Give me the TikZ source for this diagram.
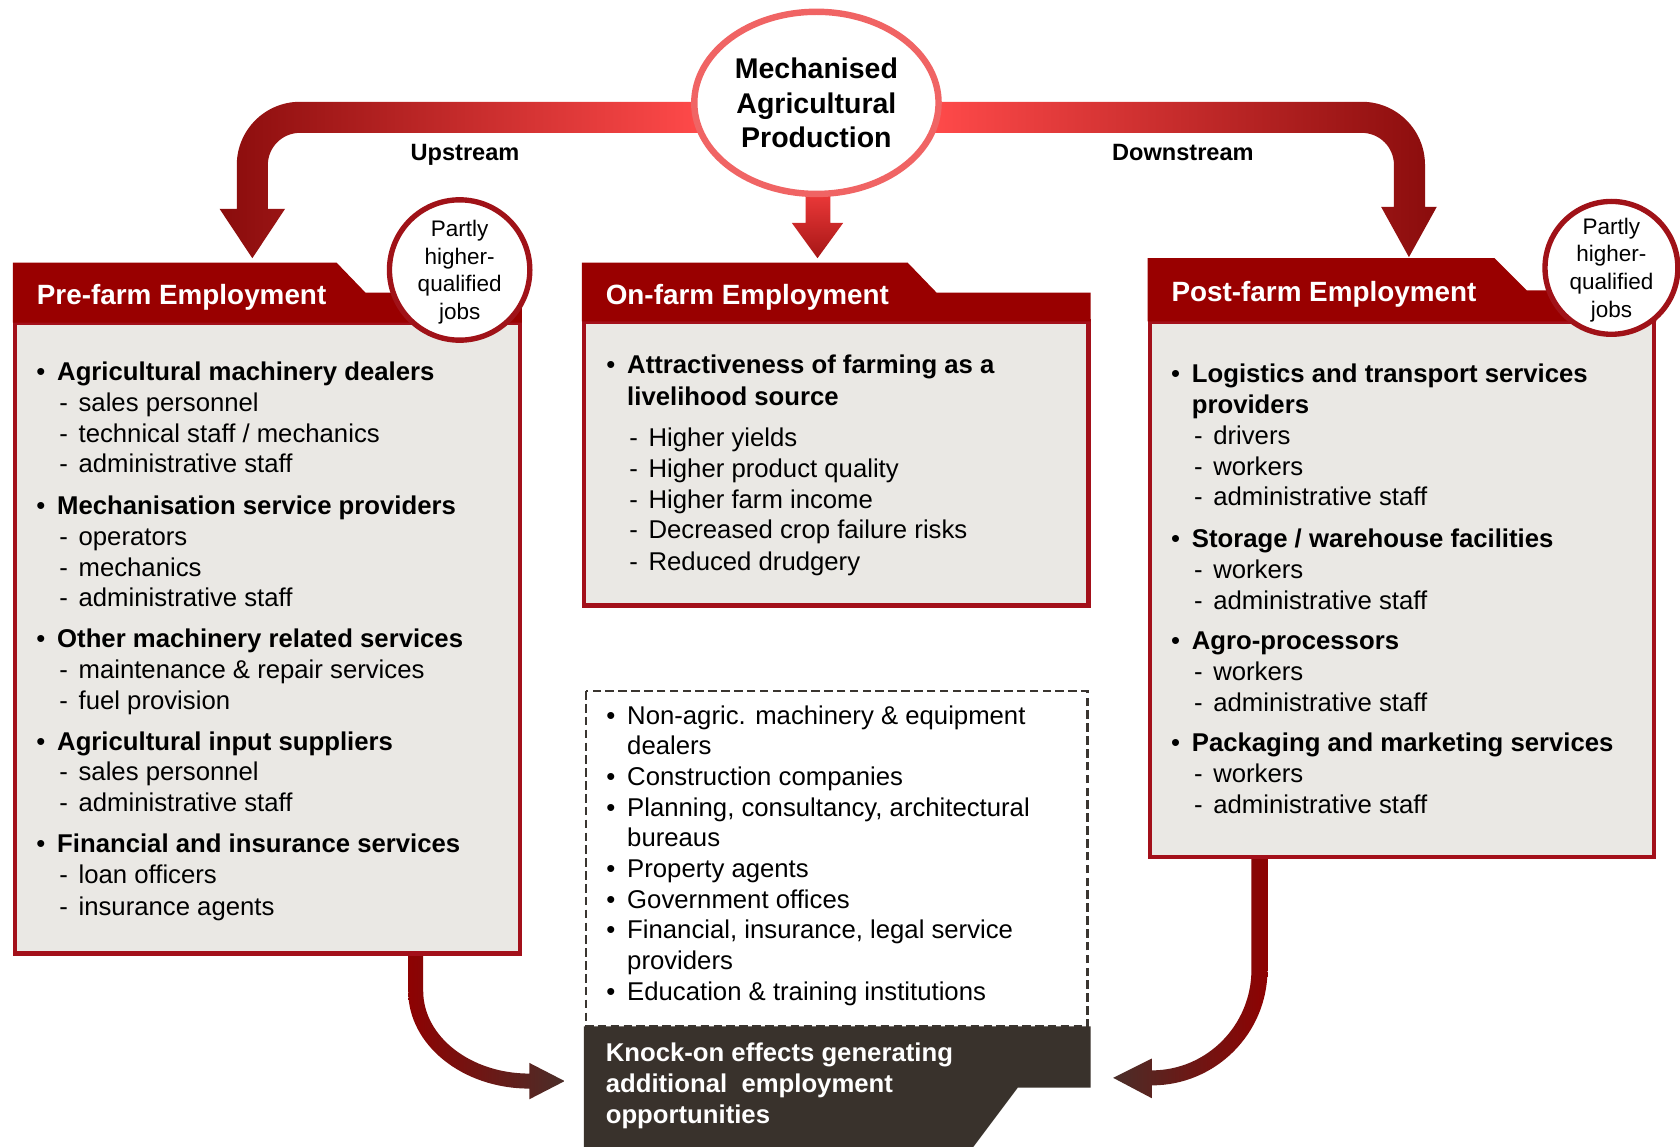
\documentclass[tikz,border=0pt]{standalone}
\usepackage{fontspec}
\setmainfont{Liberation Sans}
\usetikzlibrary{shapes.geometric}
\definecolor{hdrred}{HTML}{990000}
\definecolor{bodyfill}{HTML}{EAE8E4}
\definecolor{bodyborder}{HTML}{A3101A}
\definecolor{ringred}{HTML}{A01218}
\definecolor{toplight}{HTML}{F06464}
\definecolor{banddark}{HTML}{8A0C0C}
\definecolor{bandbright}{HTML}{FF4A4A}
\definecolor{ctrtop}{HTML}{F23C3C}
\definecolor{ctrbot}{HTML}{A61616}
\definecolor{knockbg}{HTML}{39322C}
\definecolor{dashgrey}{HTML}{3A3530}
\definecolor{arrbrown}{HTML}{4A2E29}
\definecolor{arrred}{HTML}{8E0202}
\newcommand{\itmB}[1]{\llap{\mdseries\textbullet\hspace{5.5pt}}\textbf{#1}}
\newcommand{\itmC}[1]{\textbf{#1}}
\newcommand{\itmS}[1]{\hspace*{10pt}\llap{-\hspace{5pt}}#1}
\newcommand{\itmR}[1]{\llap{\textbullet\hspace{5.5pt}}#1}
\newcommand{\itmQ}[1]{#1}
\newcommand{\itemfont}{\fontsize{12pt}{14.4pt}\selectfont}
\begin{document}
\begin{tikzpicture}[x=0.5pt,y=-0.5pt,
  line/.style={anchor=base west, inner sep=0pt, font=\itemfont},
  bodybox/.style={draw=bodyborder, line width=2pt, fill=bodyfill},
  header/.style={fill=hdrred},
  hdrtext/.style={anchor=base west, inner sep=0pt, text=white, font=\fontsize{13pt}{15.6pt}\selectfont\bfseries},
  ring/.style={ellipse, draw=ringred, line width=2.5pt, fill=white, inner sep=0pt},
  ringtext/.style={align=center, inner sep=0pt, font=\fontsize{10.5pt}{13pt}\selectfont},
  flowlabel/.style={anchor=base, inner sep=0pt, font=\fontsize{11pt}{13pt}\selectfont\bfseries},
  dashbox/.style={draw=dashgrey, line width=1.3pt, dash pattern=on 4pt off 2pt, fill=white}]
\useasboundingbox (0,0) rectangle (1568,1070);
\fill[white] (0,0) rectangle (1568,1070);

% top fat arrows
\shade[left color=banddark, right color=bandbright]
  (655,95) -- (280,95) .. controls (247.4,95) and (221,121.4) .. (221,154)
  -- (221,195) -- (205,195) -- (235.5,241) -- (266,195) -- (250,195) -- (250,154)
  .. controls (250,137.4) and (263.4,124) .. (280,124) -- (655,124) -- cycle;
\shade[left color=bandbright, right color=banddark]
  (870,95) -- (1271,95) .. controls (1303.6,95) and (1330,121.4) .. (1330,154)
  -- (1330,193) -- (1341,193) -- (1315,240) -- (1289,193) -- (1301,193) -- (1301,154)
  .. controls (1301,137.4) and (1287.6,124) .. (1271,124) -- (870,124) -- cycle;
\shade[top color=ctrtop, bottom color=ctrbot]
  (752,175) -- (752,208) -- (739,208) -- (763,241) -- (787,208) -- (775,208) -- (775,175) -- cycle;

% central circle
\node[ellipse, draw=toplight, line width=3pt, fill=white, inner sep=0pt,
  minimum width=114pt, minimum height=85pt] (mech) at (762,96) {};
\node[align=center, inner sep=0pt, font=\fontsize{13.3pt}{16pt}\selectfont\bfseries] (mechtxt) at (mech.center)
  {Mechanised\\Agricultural\\Production};

\node[flowlabel] (up) at (434,150) {Upstream};
\node[flowlabel] (down) at (1104,150) {Downstream};

% bottom curved arrows
\shade[left color=arrred, right color=arrbrown]
  (381,880) -- (381,925) .. controls (381,975.2) and (431.6,1016) .. (494,1016)
  -- (494,1026) -- (527,1009) -- (494,992) -- (494,1002)
  .. controls (439.4,1002) and (395,967.5) .. (395,925) -- (395,880) -- cycle;
\shade[left color=arrbrown, right color=arrred]
  (1183,795) -- (1183,905) .. controls (1183,964.6) and (1134.6,1013) .. (1075,1013)
  -- (1075,1025) -- (1039,1006) -- (1075,988) -- (1075,999)
  .. controls (1126.3,999) and (1168,956.9) .. (1168,905) -- (1168,795) -- cycle;

% boxes
\draw[bodybox] (14,301) rectangle (485,890);
\fill[header] (12,245) -- (314,245) -- (341,273) -- (487,273) -- (487,301) -- (12,301) -- cycle;
\node[hdrtext] (prehdr) at (34,284) {Pre-farm Employment};

\draw[bodybox] (545,300) rectangle (1016,565);
\fill[header] (543,245) -- (847,245) -- (874,273) -- (1018,273) -- (1018,300) -- (543,300) -- cycle;
\node[hdrtext] (onhdr) at (565,284) {On-farm Employment};

\draw[bodybox] (1073,300) rectangle (1544,800);
\fill[header] (1071,241) -- (1395,241) -- (1425,271) -- (1546,271) -- (1546,300) -- (1071,300) -- cycle;
\node[hdrtext] (posthdr) at (1093,281) {Post-farm Employment};

% partly circles
\node[ring, minimum width=65.5pt, minimum height=65.5pt] (partL) at (429,252) {};
\node[ringtext] (partLtxt) at ([yshift=-1pt]partL.center) {Partly\\higher-\\qualified\\jobs};
\node[ring, minimum width=62pt, minimum height=62pt] (partR) at (1504,250) {};
\node[ringtext] (partRtxt) at ([yshift=-1pt]partR.center) {Partly\\higher-\\qualified\\jobs};

% pre-farm list
\foreach \txt/\yy/\k [count=\i] in {
  {Agricultural machinery dealers}/355/B,
  {sales personnel}/384/S,
  {technical staff / mechanics}/413/S,
  {administrative staff}/441/S,
  {Mechanisation service providers}/480/B,
  {operators}/509/S,
  {mechanics}/538/S,
  {administrative staff}/566/S,
  {Other machinery related services}/604/B,
  {maintenance \& repair services}/633/S,
  {fuel provision}/662/S,
  {Agricultural input suppliers}/700/B,
  {sales personnel}/728/S,
  {administrative staff}/757/S,
  {Financial and insurance services}/796/B,
  {loan officers}/825/S,
  {insurance agents}/854/S}
  {\node[line] (pre\i) at (53,\yy) {\csname itm\k\endcsname{\txt}};}

% on-farm list
\foreach \txt/\yy/\k [count=\i] in {
  {Attractiveness of farming as a}/349/B,
  {livelihood source}/378/C,
  {Higher yields}/417/S,
  {Higher product quality}/446/S,
  {Higher farm income}/475/S,
  {Decreased crop failure risks}/503/S,
  {Reduced drudgery}/532/S}
  {\node[line] (on\i) at (585,\yy) {\csname itm\k\endcsname{\txt}};}

% post-farm list
\foreach \txt/\yy/\k [count=\i] in {
  {Logistics and transport services}/357/B,
  {providers}/386/C,
  {drivers}/415/S,
  {workers}/444/S,
  {administrative staff}/472/S,
  {Storage / warehouse facilities}/511/B,
  {workers}/540/S,
  {administrative staff}/569/S,
  {Agro-processors}/606/B,
  {workers}/635/S,
  {administrative staff}/664/S,
  {Packaging and marketing services}/701/B,
  {workers}/730/S,
  {administrative staff}/759/S}
  {\node[line] (post\i) at (1112,\yy) {\csname itm\k\endcsname{\txt}};}

% knock-on area
\draw[dashbox] (547,645) rectangle (1015,958);
\foreach \txt/\yy/\k [count=\i] in {
  {Non-agric. machinery \& equipment}/676/R,
  {dealers}/704/Q,
  {Construction companies}/733/R,
  {Planning, consultancy, architectural}/762/R,
  {bureaus}/790/Q,
  {Property agents}/819/R,
  {Government offices}/848/R,
  {Financial, insurance, legal service}/876/R,
  {providers}/905/Q,
  {Education \& training institutions}/934/R}
  {\node[line] (ko\i) at (585,\yy) {\csname itm\k\endcsname{\txt}};}

\fill[knockbg] (545,958) -- (1018,958) -- (1018,1015) -- (950,1015) -- (905,1075) -- (545,1075) -- cycle;
\node[anchor=north west, inner sep=0pt, align=left, text=white,
  font=\fontsize{12pt}{14.5pt}\selectfont\bfseries] (knock) at (565,973)
  {Knock-on effects generating\\additional\ \ employment\\opportunities};
\end{tikzpicture}
\end{document}
